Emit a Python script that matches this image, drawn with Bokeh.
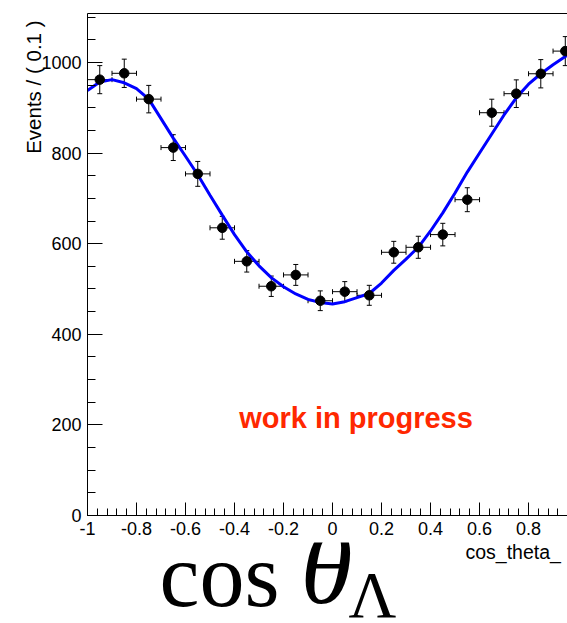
import numpy as np
from bokeh.plotting import figure
from bokeh.layouts import column
from bokeh.models import (ColumnDataSource, Whisker, TeeHead, Label, FixedTicker,
                          LinearAxis, Range1d, Title)
from bokeh.core.properties import value
from bokeh.embed import file_html
from bokeh.resources import INLINE

# ---- data ----
bin_centers = [-0.95, -0.85, -0.75, -0.65, -0.55, -0.45, -0.35, -0.25, -0.15, -0.05,
               0.05, 0.15, 0.25, 0.35, 0.45, 0.55, 0.65, 0.75, 0.85, 0.95]
events = [962, 976, 919, 812, 754, 635, 561, 506, 531, 474,
          494, 486, 581, 592, 620, 697, 889, 931, 975, 1025]
bin_half_width = 0.05

fit_x = [-1.0, -0.95, -0.9, -0.85, -0.8, -0.75, -0.7, -0.65, -0.6, -0.55, -0.5,
         -0.45, -0.4, -0.35, -0.3, -0.25, -0.2, -0.15, -0.1, -0.05, 0.0,
         0.05, 0.1, 0.15, 0.2, 0.25, 0.3, 0.35, 0.4, 0.45, 0.5,
         0.55, 0.6, 0.65, 0.7, 0.75, 0.8, 0.85, 0.9, 0.95, 1.0]
fit_y = [938, 957, 962, 955, 942, 919, 876, 833, 793, 752, 707,
         663, 620, 582, 551, 525, 505, 489, 477, 470, 467,
         472, 481, 490, 513, 541, 566, 592, 628, 668, 712,
         758, 800, 842, 884, 922, 952, 975, 995, 1013, 1028]

x_ticks = [-1.0, -0.8, -0.6, -0.4, -0.2, 0.0, 0.2, 0.4, 0.6, 0.8]
x_tick_labels = ["-1", "-0.8", "-0.6", "-0.4", "-0.2", "0", "0.2", "0.4", "0.6", "0.8"]
y_ticks = [0, 200, 400, 600, 800, 1000]
y_tick_labels = ["0", "200", "400", "600", "800", "1000"]

x_title = "cos_theta_"
y_title = "Events / ( 0.1 )"
note_text = "work in progress"
formula_parts = ["cos", "θ", "Λ"]

# ---- derived ----
err = np.sqrt(np.array(events, dtype=float))
src = ColumnDataSource(dict(
    x=bin_centers, y=events,
    lo=(np.array(events) - err).tolist(), hi=(np.array(events) + err).tolist(),
    xl=(np.array(bin_centers) - bin_half_width).tolist(),
    xr=(np.array(bin_centers) + bin_half_width).tolist(),
))

MAIN_BOTTOM = 27
p = figure(frame_width=480, frame_height=502, x_range=Range1d(-1, 0.959),
           y_range=Range1d(0, 1108),
           output_backend="svg", toolbar_location=None,
           min_border_left=87, min_border_right=0, min_border_top=13,
           min_border_bottom=MAIN_BOTTOM)
p.outline_line_color = None
p.grid.visible = False
p.background_fill_color = "white"
p.border_fill_color = "white"

x_minor = [round(v, 2) for v in np.arange(-1.0, 0.961, 0.04)]
y_minor = list(range(0, 1101, 50))
p.xaxis.ticker = FixedTicker(ticks=x_ticks, minor_ticks=x_minor)
p.xaxis.major_label_overrides = dict(zip(x_ticks, x_tick_labels))
p.yaxis.ticker = FixedTicker(ticks=y_ticks, minor_ticks=y_minor)
p.yaxis.major_label_overrides = dict(zip(y_ticks, y_tick_labels))

for ax, mj, mn in ((p.xaxis, 13, 7), (p.yaxis, 15, 8)):
    ax.axis_line_color = "black"
    ax.axis_line_width = 1
    ax.major_tick_line_color = "black"
    ax.minor_tick_line_color = "black"
    ax.major_tick_in = mj
    ax.major_tick_out = 0
    ax.minor_tick_in = mn
    ax.minor_tick_out = 0
    ax.major_label_text_font = "Liberation Sans"
    ax.major_label_text_font_size = "18px"
    ax.major_label_text_color = "black"
    ax.major_label_standoff = 6

top_axis = LinearAxis(ticker=FixedTicker(ticks=[]), major_label_text_font_size="0px",
                      major_tick_line_color=None, minor_tick_line_color=None,
                      axis_line_color="black", major_label_standoff=0)
p.add_layout(top_axis, "above")

ytitle = Title(text=y_title, align="right", offset=7, vertical_align="bottom",
               text_font="Liberation Sans", text_font_size="20.5px",
               text_font_style="normal", text_color="black")
try:
    ytitle.standoff = -12
except Exception:
    ytitle.standoff = 0
p.add_layout(ytitle, "left")

p.line(fit_x, fit_y, line_color="#0000ff", line_width=3)

p.add_layout(Whisker(base="x", lower="lo", upper="hi", dimension="height", source=src,
                     line_color="black", line_width=1,
                     upper_head=TeeHead(size=5, line_color="black", line_width=1),
                     lower_head=TeeHead(size=5, line_color="black", line_width=1)))
p.add_layout(Whisker(base="y", lower="xl", upper="xr", dimension="width", source=src,
                     line_color="black", line_width=1,
                     upper_head=TeeHead(size=5, line_color="black", line_width=1),
                     lower_head=TeeHead(size=5, line_color="black", line_width=1)))

p.scatter("x", "y", source=src, size=9.5, color="black")

p.add_layout(Label(x=268.5, y=98, x_units="screen", y_units="screen", text=note_text,
                   text_align="center", text_baseline="alphabetic",
                   text_font="Liberation Sans", text_font_style="bold",
                   text_font_size="29px", text_color="#ff2800"))

# ---- lower strip with the axis title and the large formula ----
# (its frame is aligned with the main frame by the column layout: x 87..567)
H2 = 80
q = figure(width=567, height=H2, x_range=Range1d(87, 567), y_range=Range1d(H2, 0),
           output_backend="svg", toolbar_location=None,
           x_axis_type=None, y_axis_type=None,
           min_border_left=0, min_border_right=0, min_border_top=0, min_border_bottom=0)
q.outline_line_color = None
q.grid.visible = False
q.background_fill_color = "white"
q.border_fill_color = "white"

q.text(x=[465], y=[9], text=[x_title], text_align="left", text_baseline="alphabetic",
       text_font=value("Liberation Sans"), text_font_size=value("19.5px"), text_color="black")
q.text(x=[159], y=[33], text=[formula_parts[0]], text_align="left", text_baseline="alphabetic",
       text_font=value("Liberation Serif"), text_font_size=value("90px"), text_color="black")
q.text(x=[300], y=[25], text=[formula_parts[1]], text_align="left", text_baseline="alphabetic",
       text_font=value("Liberation Serif"), text_font_style="italic",
       text_font_size=value("106px"), text_color="black")
q.text(x=[348], y=[52], text=[formula_parts[2]], text_align="left", text_baseline="alphabetic",
       text_font=value("Liberation Serif"), text_font_size=value("66px"), text_color="black")

layout = column(p, q, spacing=0)
open("out.html", "w").write(file_html(layout, INLINE))
